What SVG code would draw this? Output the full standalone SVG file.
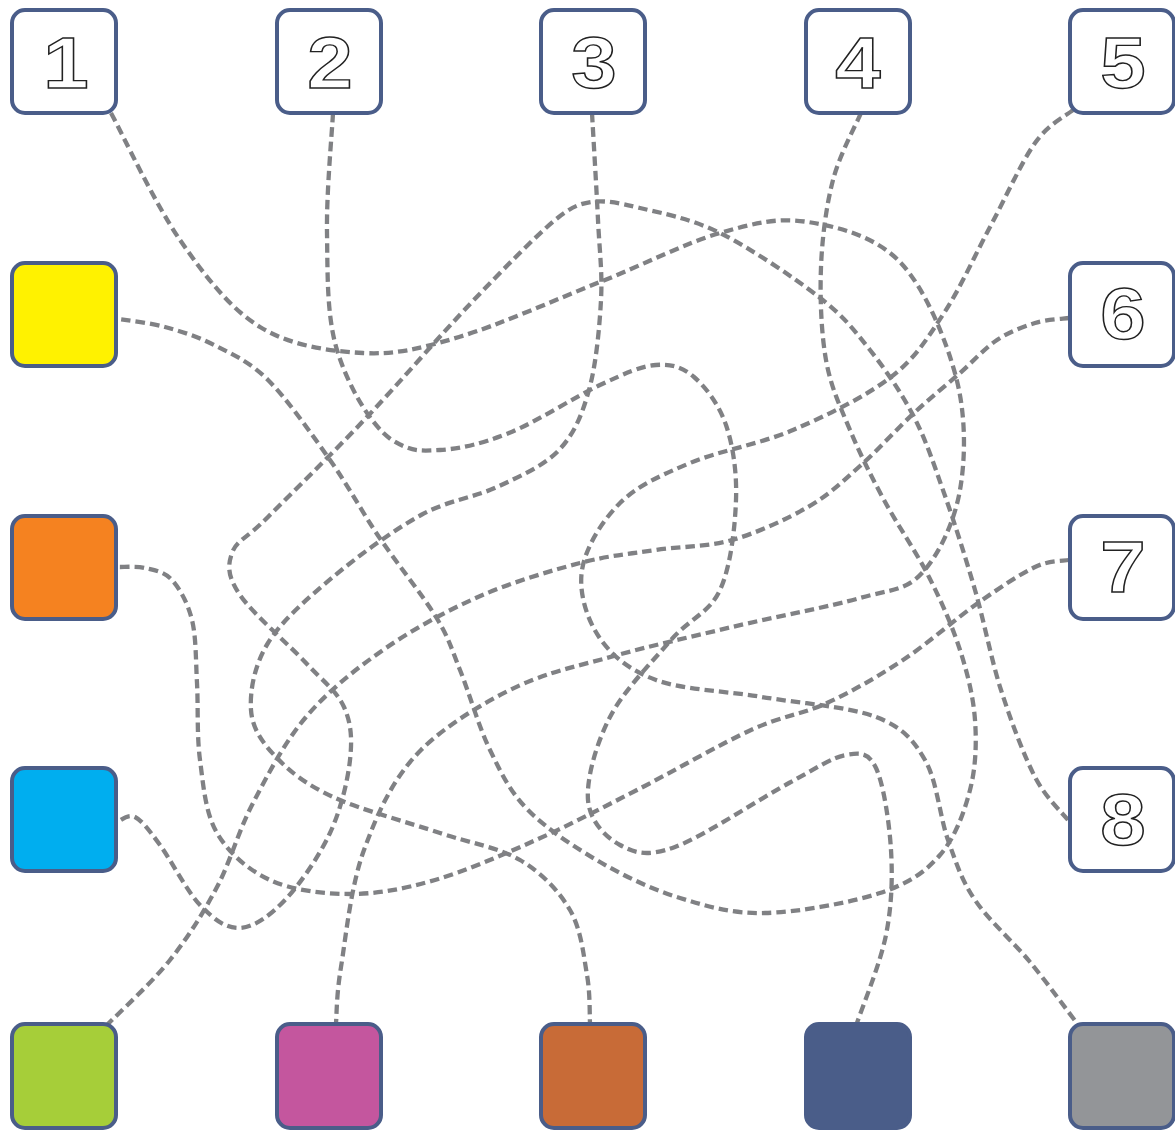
<svg xmlns="http://www.w3.org/2000/svg" width="1175" height="1131" viewBox="0 0 1175 1131">
<style>
.box{stroke:#4a5d89;stroke-width:4}
.num{fill:#ffffff;stroke:#222222;stroke-width:1.4;font-family:"Liberation Sans",Arial,sans-serif;font-weight:bold;font-size:73px;text-anchor:middle}
.wire{fill:none;stroke:#808184;stroke-width:4.3;stroke-dasharray:9.5 5}
</style>
<rect width="1175" height="1131" fill="#ffffff"/>
<g id="connectors">
<path class="wire" d="M111,113 C122.5,134.2 155.2,204.3 180,240 C204.8,275.7 229.5,308.2 260,327 C290.5,345.8 329.8,351.3 363,353 C396.2,354.7 419.5,348.8 459,337 C498.5,325.2 556.5,299.3 600,282 C643.5,264.7 685.3,243 720,233 C754.7,223 778,217.2 808,222 C838,226.8 875.3,236.2 900,262 C924.7,287.8 946,339 956,377 C966,415 965.7,457.3 960,490 C954.3,522.7 938.7,555 922,573 C905.3,591 891.7,589 860,598 C828.3,607 773,617.2 732,627 C691,636.8 646.7,646.7 614,656 C581.3,665.3 560,669 530,681 C500,693 449.7,721.2 421,750 C392.3,778.8 377.3,813.8 364,850 C350.7,886.2 345.7,938.2 341,967 C336.3,995.8 336.8,1013.7 336,1023"/>
<path class="wire" d="M333,113 C332,133 326.3,193.5 327,233 C327.7,272.5 326.5,315.5 337,350 C347.5,384.5 370,425 392,440 C412,452 420,451 440,450 C460,448.8 481.7,443.8 509,433 C536.3,422.2 575.5,396.3 600,385 C624.5,373.7 640.3,366.3 656,365 C671.7,363.7 682.3,367 694,377 C705.7,387 719,404.5 726,425 C733,445.5 737,472.5 736,500 C735,527.5 730.8,566.7 720,590 C709.2,613.3 689.3,618.8 671,640 C652.7,661.2 623.8,690.3 610,717 C596.2,743.7 586.3,778.7 588,800 C589.7,821.3 605.5,837.2 620,845 C634.5,852.8 646.8,857.3 675,847 C703.2,836.7 760.5,798.3 789,783 C817.5,767.7 831.5,757.5 846,755 C860.5,752.5 868.5,752.2 876,768 C883.5,783.8 889.3,822.2 891,850 C892.7,877.8 891.7,906.2 886,935 C880.3,963.8 861.8,1008.3 857,1023"/>
<path class="wire" d="M592,113 C593,130.8 596.5,188.8 598,220 C599.5,251.2 602.5,271.7 601,300 C599.5,328.3 596,365 589,390 C582,415 574.3,433.8 559,450 C543.7,466.2 520,476.2 497,487 C474,497.8 448.3,500 421,515 C393.7,530 358.5,555.7 333,577 C307.5,598.3 281.7,620.8 268,643 C254.3,665.2 249.7,691 251,710 C252.3,729 262.3,742.5 276,757 C289.7,771.5 305.7,784.3 333,797 C360.3,809.7 408.8,822.5 440,833 C471.2,843.5 498.3,847.2 520,860 C541.7,872.8 558.8,890.8 570,910 C581.2,929.2 583.7,956.2 587,975 C590.3,993.8 589.5,1015 590,1023"/>
<path class="wire" d="M861,113 C856.3,124.2 839.7,154.3 833,180 C826.3,205.7 822.2,237 821,267 C819.8,297 821.2,332.8 826,360 C830.8,387.2 840.3,406.7 850,430 C859.7,453.3 870.8,475.5 884,500 C897.2,524.5 916.3,552 929,577 C941.7,602 952.3,626.2 960,650 C967.7,673.8 973.3,696.7 975,720 C976.7,743.3 975.8,767.5 970,790 C964.2,812.5 955,837.8 940,855 C925,872.2 909.2,883.3 880,893 C850.8,902.7 798.3,912.2 765,913 C731.7,913.8 707.5,906.5 680,898 C652.5,889.5 625.3,876.7 600,862 C574.7,847.3 546.3,828.7 528,810 C509.7,791.3 501.3,773.3 490,750 C478.7,726.7 469,692.2 460,670 C451,647.8 449.5,639.2 436,617 C422.5,594.8 396.7,563.2 379,537 C361.3,510.8 348.5,486.2 330,460 C311.5,433.8 287.3,399.2 268,380 C248.7,360.8 231.2,353.8 214,345 C196.8,336.2 180.8,331.3 165,327 C149.2,322.7 126.7,320.3 119,319"/>
<path class="wire" d="M1073,110 C1066.7,115.5 1048.8,123.5 1035,143 C1021.2,162.5 1005.2,198.7 990,227 C974.8,255.3 960.5,288 944,313 C927.5,338 916.2,357.5 891,377 C865.8,396.5 826.5,415.7 793,430 C759.5,444.3 718.8,450.8 690,463 C661.2,475.2 638,485.2 620,503 C602,520.8 585.5,547.7 582,570 C578.5,592.3 586.7,618.7 599,637 C611.3,655.3 628.8,670 656,680 C683.2,690 725.3,690.8 762,697 C798.7,703.2 848.8,706.5 876,717 C903.2,727.5 913,739.5 925,760 C937,780.5 939.7,816.7 948,840 C956.3,863.3 961.3,879.7 975,900 C988.7,920.3 1013.2,941.7 1030,962 C1046.8,982.3 1068.3,1012 1076,1022"/>
<path class="wire" d="M1069,318 C1063.3,318.8 1047,319.3 1035,323 C1023,326.7 1009.5,331.7 997,340 C984.5,348.3 973.8,360.8 960,373 C946.2,385.2 930.7,397.5 914,413 C897.3,428.5 877.7,450.3 860,466 C842.3,481.7 829.3,494.7 808,507 C786.7,519.3 757.3,532.8 732,540 C706.7,547.2 681.3,546.2 656,550 C630.7,553.8 609.7,555.2 580,563 C550.3,570.8 510.8,582.5 478,597 C445.2,611.5 411.7,630 383,650 C354.3,670 327.7,691.5 306,717 C284.3,742.5 267.8,774.7 253,803 C238.2,831.3 230.8,860.8 217,887 C203.2,913.2 188.3,937 170,960 C151.7,983 117.5,1014.2 107,1025"/>
<path class="wire" d="M1069,560 C1063.3,561.2 1050.2,559.8 1035,567 C1019.8,574.2 1000,587.5 978,603 C956,618.5 928.2,643.3 903,660 C877.8,676.7 852.3,691.3 827,703 C801.7,714.7 782.7,715.5 751,730 C719.3,744.5 672.8,771.7 637,790 C601.2,808.3 569.7,825 536,840 C502.3,855 466,871 435,880 C404,889 377.5,894 350,894 C322.5,894 292.2,890.2 270,880 C247.8,869.8 228.7,853 217,833 C205.3,813 203.3,785 200,760 C196.7,735 198.3,706.3 197,683 C195.7,659.7 196.2,637.2 192,620 C187.8,602.8 179.8,588.7 172,580 C164.2,571.3 153.8,570.2 145,568 C136.2,565.8 123.3,567.2 119,567"/>
<path class="wire" d="M1068,820 C1062.5,812.8 1046.2,798.7 1035,777 C1023.8,755.3 1011,721.2 1001,690 C991,658.8 984.5,622.8 975,590 C965.5,557.2 954.2,521.8 944,493 C933.8,464.2 926.3,440.8 914,417 C901.7,393.2 885.8,370 870,350 C854.2,330 844,316.5 819,297 C794,277.5 749.8,247.8 720,233 C690.2,218.2 661.5,213.2 640,208 C618.5,202.8 605.2,200 591,202 C578,204 570,208 555,220 C535,236.8 502.3,270.2 471,303 C439.7,335.8 400.8,381.3 367,417 C333.2,452.7 290.5,494.3 268,517 C245.5,539.7 236.7,540 232,553 C227.3,566 227.7,576.7 240,595 C252.3,613.3 288.7,644.3 306,663 C323.3,681.7 336.7,690.8 344,707 C351.3,723.2 352.3,739 350,760 C347.7,781 340.8,809.7 330,833 C319.2,856.3 300,884.2 285,900 C270,915.8 254.2,927.2 240,928 C225.8,928.8 213.3,918.8 200,905 C186.7,891.2 170.8,859.7 160,845 C149.2,830.3 142.2,820.8 135,817 C127.8,813.2 120,821.2 117,822"/>
</g>
<g id="node-1"><rect class="box" x="12" y="10" width="104" height="103" rx="13" fill="#ffffff"/><text class="num" transform="translate(66,88) scale(1.12,1)">1</text></g>
<g id="node-2"><rect class="box" x="277" y="10" width="104" height="103" rx="13" fill="#ffffff"/><text class="num" transform="translate(330,88) scale(1.12,1)">2</text></g>
<g id="node-3"><rect class="box" x="541" y="10" width="104" height="103" rx="13" fill="#ffffff"/><text class="num" transform="translate(594,88) scale(1.12,1)">3</text></g>
<g id="node-4"><rect class="box" x="806" y="10" width="104" height="103" rx="13" fill="#ffffff"/><text class="num" transform="translate(858,88) scale(1.12,1)">4</text></g>
<g id="node-5"><rect class="box" x="1070" y="10" width="104" height="103" rx="13" fill="#ffffff"/><text class="num" transform="translate(1123,88) scale(1.12,1)">5</text></g>
<g id="node-6"><rect class="box" x="1070" y="263" width="104" height="103" rx="13" fill="#ffffff"/><text class="num" transform="translate(1123,339) scale(1.12,1)">6</text></g>
<g id="node-7"><rect class="box" x="1070" y="516" width="104" height="103" rx="13" fill="#ffffff"/><text class="num" transform="translate(1123,592) scale(1.12,1)">7</text></g>
<g id="node-8"><rect class="box" x="1070" y="768" width="104" height="103" rx="13" fill="#ffffff"/><text class="num" transform="translate(1123,845) scale(1.12,1)">8</text></g>
<g id="node-yellow"><rect class="box" x="12" y="263" width="104" height="103" rx="13" fill="#fff200"/></g>
<g id="node-orange"><rect class="box" x="12" y="516" width="104" height="103" rx="13" fill="#f58220"/></g>
<g id="node-blue"><rect class="box" x="12" y="768" width="104" height="103" rx="13" fill="#00aeef"/></g>
<g id="node-green"><rect class="box" x="12" y="1024" width="104" height="104" rx="13" fill="#a6ce39"/></g>
<g id="node-magenta"><rect class="box" x="277" y="1024" width="104" height="104" rx="13" fill="#c4569e"/></g>
<g id="node-brown"><rect class="box" x="541" y="1024" width="104" height="104" rx="13" fill="#c86b37"/></g>
<g id="node-navy"><rect class="box" x="806" y="1024" width="104" height="104" rx="13" fill="#4a5d89"/></g>
<g id="node-gray"><rect class="box" x="1070" y="1024" width="104" height="104" rx="13" fill="#939598"/></g>
</svg>
